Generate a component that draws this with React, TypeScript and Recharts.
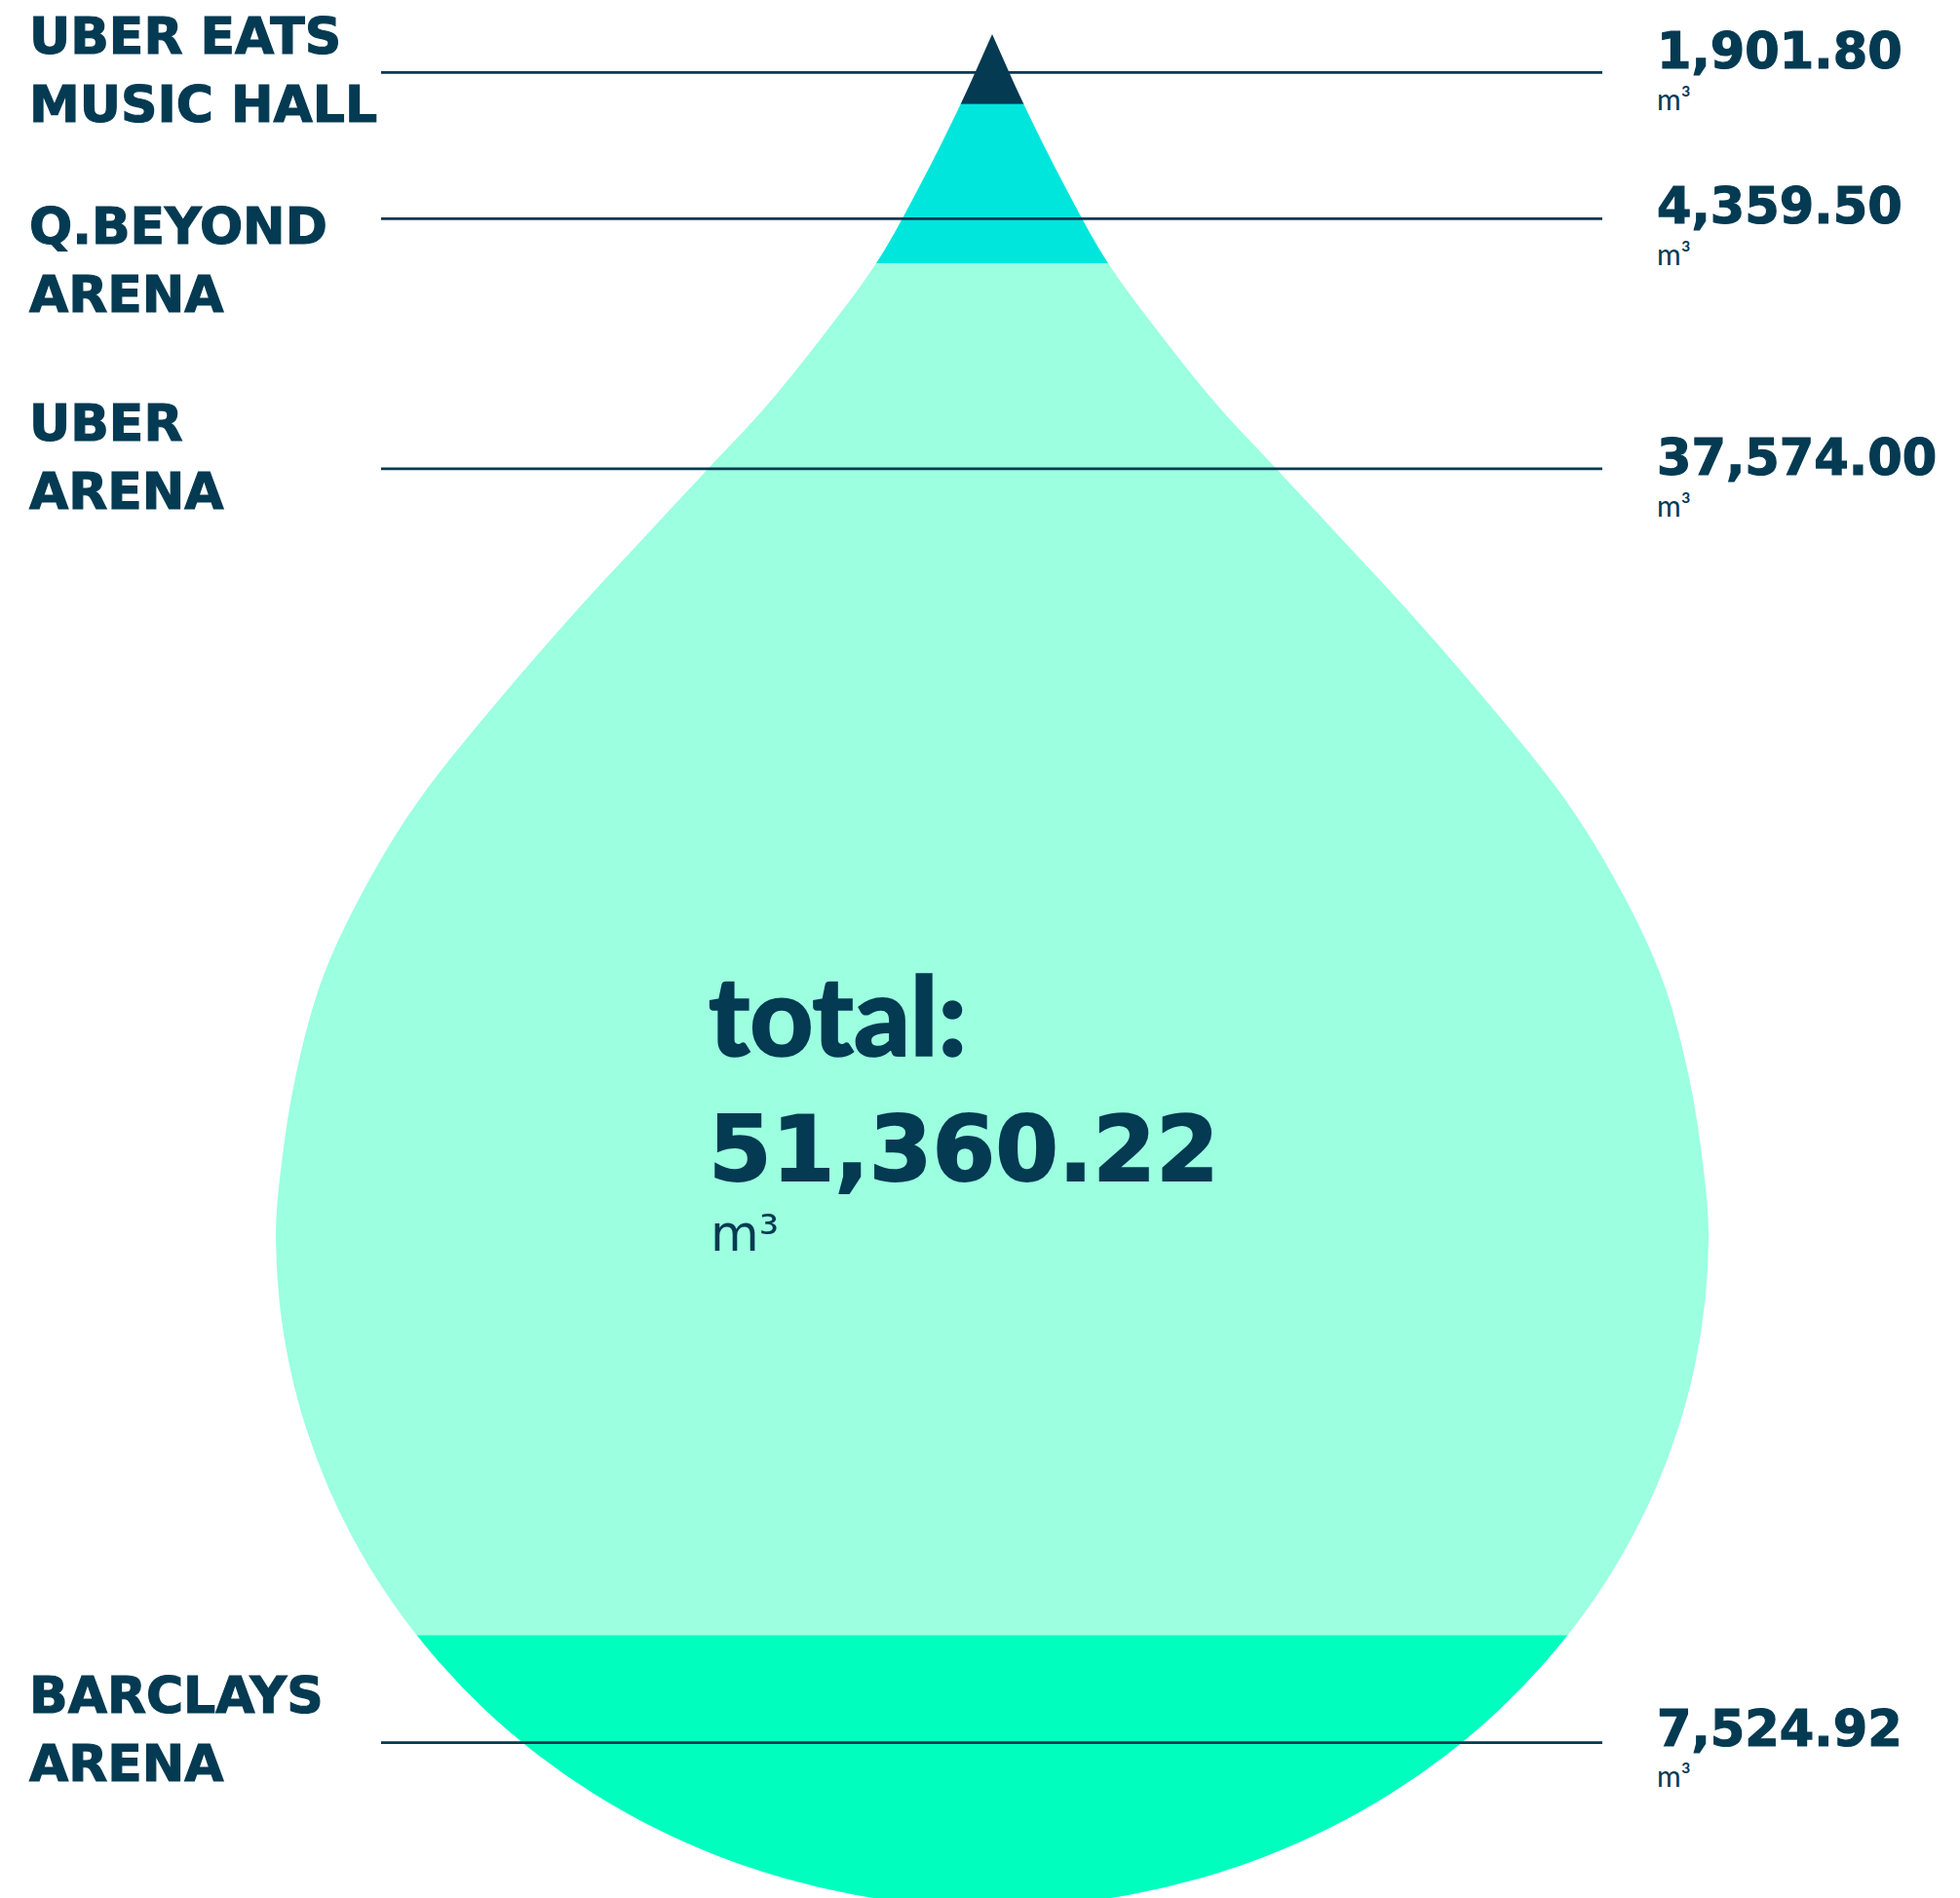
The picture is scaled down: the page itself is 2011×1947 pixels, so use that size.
import React from 'react';
import { BarChart, Bar, XAxis, YAxis, ReferenceLine } from 'recharts';

// ---------- DATA ----------
const venueKeys = ['uberEats', 'qbeyond', 'uberArena', 'barclays'];
const venueNames = [
  ['UBER EATS', 'MUSIC HALL'],
  ['Q.BEYOND', 'ARENA'],
  ['UBER', 'ARENA'],
  ['BARCLAYS', 'ARENA'],
];
const waterVolumes = [1901.8, 4359.5, 37574.0, 7524.92];
const unitLabel = 'm³';
const totalLabel = 'total:';

// ---------- STYLE / LAYOUT ----------
const NAVY = '#043a52';
const segmentColors = ['#043a52', '#00e6dc', '#9bffe0', '#00ffbf'];
const CHART_W = 2011;
const CHART_H = 1959;
const VIEW_H = 1947;
const MARGIN = { top: 35, right: 258, bottom: 0, left: 283 };
const PLOT_W = CHART_W - MARGIN.left - MARGIN.right;
const PLOT_H = CHART_H - MARGIN.top - MARGIN.bottom;
const CX = MARGIN.left + PLOT_W / 2;
const HALF_W = PLOT_W / 2;

// leader line anchors along the value axis (annotation positions)
const labelLevels = [50310, 46304, 39457, 4575];
const LINE_X1 = 391;
const LINE_X2 = 1644;
const LEFT_X = 30;
const VALUE_X = 1700;
const leftDy = [-19.6, 25.2, -29.1, -30.7];
const LINE_GAP = 70.5;
const valueDy = [-4.3, 4.7, 6.3, 3.3];
const UNIT_GAP = 42.5;

// drop outline template: upper half-profile (u = half width / HALF_W, v = depth / PLOT_H)
const UPPER_PROFILE: [number, number][] = [
  [0, 0],
  [0.0435, 0.0369],
  [0.1007, 0.0806],
  [0.1619, 0.1222],
  [0.2422, 0.1638],
  [0.3197, 0.2002],
  [0.3959, 0.2314],
  [0.4844, 0.2678],
  [0.5728, 0.3042],
  [0.6912, 0.3562],
  [0.8, 0.4082],
  [0.868, 0.4498],
  [0.9333, 0.5018],
  [0.9714, 0.5538],
  [0.9932, 0.6058],
  [1.0, 0.6401],
];
const BOTTOM_RY = 0.3586; // lower half-ellipse vertical radius (fraction of PLOT_H)

function buildDropPath(): string {
  const pts = UPPER_PROFILE.map(([u, v]) => ({ y: MARGIN.top + v * PLOT_H, w: u * HALF_W }));
  const n = pts.length;
  const m: number[] = pts.map((p, i) => {
    if (i === 0) return (pts[1].w - pts[0].w) / (pts[1].y - pts[0].y);
    if (i === n - 1) return 0;
    const d0 = (p.w - pts[i - 1].w) / (p.y - pts[i - 1].y);
    const d1 = (pts[i + 1].w - p.w) / (pts[i + 1].y - p.y);
    return (d0 + d1) / 2;
  });
  const f = (x: number) => x.toFixed(2);
  let d = `M${f(CX)},${f(pts[0].y)}`;
  for (let i = 0; i < n - 1; i++) {
    const a = pts[i];
    const b = pts[i + 1];
    const h = b.y - a.y;
    d += ` C${f(CX - (a.w + (m[i] * h) / 3))},${f(a.y + h / 3)} ${f(CX - (b.w - (m[i + 1] * h) / 3))},${f(b.y - h / 3)} ${f(CX - b.w)},${f(b.y)}`;
  }
  const yw = pts[n - 1].y;
  const ry = BOTTOM_RY * PLOT_H;
  d += ` A${f(HALF_W)},${f(ry)} 0 0 0 ${f(CX)},${f(yw + ry)}`;
  d += ` A${f(HALF_W)},${f(ry)} 0 0 0 ${f(CX + HALF_W)},${f(yw)}`;
  for (let i = n - 2; i >= 0; i--) {
    const a = pts[i];
    const b = pts[i + 1];
    const h = b.y - a.y;
    d += ` C${f(CX + (b.w - (m[i + 1] * h) / 3))},${f(b.y - h / 3)} ${f(CX + (a.w + (m[i] * h) / 3))},${f(a.y + h / 3)} ${f(CX + a.w)},${f(a.y)}`;
  }
  return d + ' Z';
}
const DROP_PATH = buildDropPath();

const fmt = (v: number) =>
  v.toLocaleString('en-US', { minimumFractionDigits: 2, maximumFractionDigits: 2 });

const total = waterVolumes.reduce((a, b) => a + b, 0);

const row: Record<string, any> = { name: 'water' };
venueKeys.forEach((k, i) => {
  row[k] = waterVolumes[i];
});
const chartData = [row];

// stacking order: bottom to top
const stackOrder = [3, 2, 1, 0];

const makeSegment = (key: string) => (props: any) => {
  const { x, y, width, height, fill } = props;
  const id = `drop-clip-${key}`;
  return (
    <g>
      <defs>
        <clipPath id={id}>
          <path d={DROP_PATH} />
        </clipPath>
      </defs>
      <rect
        x={x}
        y={y - 0.4}
        width={width}
        height={height + 0.8}
        fill={fill}
        clipPath={`url(#${id})`}
      />
    </g>
  );
};

const labelFont = '"DejaVu Sans", sans-serif';
const heavy = { fill: NAVY, stroke: NAVY, strokeWidth: 1.2, fontFamily: labelFont, fontWeight: 700 };

const makeLeader = (i: number) => (p: any) => {
  const y = p.y1;
  if (y == null || isNaN(y)) return <g />;
  return (
    <g>
      <line x1={LINE_X1} x2={LINE_X2} y1={y} y2={y} stroke={NAVY} strokeWidth={2.6} />
      <text x={LEFT_X} y={y + leftDy[i]} {...heavy} fontSize={52}>
        {venueNames[i][0]}
      </text>
      <text x={LEFT_X} y={y + leftDy[i] + LINE_GAP} {...heavy} fontSize={52}>
        {venueNames[i][1]}
      </text>
      <text x={VALUE_X} y={y + valueDy[i]} {...heavy} fontSize={51}>
        {fmt(waterVolumes[i])}
      </text>
      <text
        x={VALUE_X}
        y={y + valueDy[i] + UNIT_GAP}
        fill={NAVY}
        fontFamily="Lato, sans-serif"
        fontWeight={400}
        fontSize={30}
      >
        {unitLabel}
      </text>
    </g>
  );
};

const TotalLabel = () => (
  <g>
    <text
      x={727}
      y={1083}
      fill={NAVY}
      stroke={NAVY}
      strokeWidth={1.6}
      fontFamily="Lato, sans-serif"
      fontWeight={900}
      fontSize={113}
    >
      {totalLabel}
    </text>
    <text x={727} y={1211} {...heavy} strokeWidth={1.8} fontSize={93}>
      {fmt(total)}
    </text>
    <text x={729} y={1283} fill={NAVY} fontFamily={labelFont} fontWeight={400} fontSize={51}>
      {unitLabel}
    </text>
  </g>
);

export default function App() {
  return (
    <div
      style={{
        position: 'absolute',
        left: 0,
        top: 0,
        width: CHART_W,
        height: VIEW_H,
        overflow: 'hidden',
        background: '#ffffff',
      }}
    >
      <BarChart
        width={CHART_W}
        height={CHART_H}
        data={chartData}
        margin={MARGIN}
        barCategoryGap={0}
        barGap={0}
      >
        <XAxis dataKey="name" hide />
        <YAxis type="number" domain={[0, total]} hide />
        {stackOrder.map((i) => (
          <Bar
            key={venueKeys[i]}
            dataKey={venueKeys[i]}
            stackId="drop"
            fill={segmentColors[i]}
            isAnimationActive={false}
            shape={makeSegment(venueKeys[i])}
          />
        ))}
        {labelLevels.map((lv, i) => (
          <ReferenceLine key={`leader-${i}`} y={lv} shape={makeLeader(i)} ifOverflow="visible" />
        ))}
        <ReferenceLine y={total} shape={TotalLabel} ifOverflow="visible" />
      </BarChart>
    </div>
  );
}
